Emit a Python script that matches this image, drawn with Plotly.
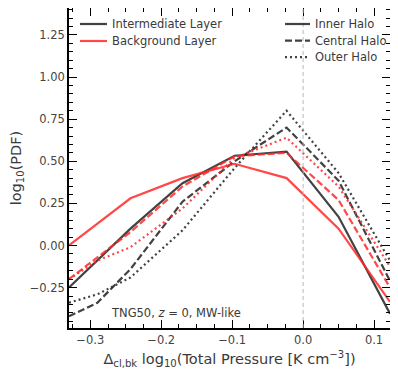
import plotly.graph_objects as go

# x positions of bin centres (left edge value read at axis boundary)
x_pts = [-0.33, -0.2433, -0.17, -0.0966, -0.0233, 0.05, 0.1225]
x_pts_b = [-0.33, -0.29, -0.2433, -0.17, -0.0966, -0.0233, 0.05, 0.1225]

# Intermediate layer (black)
int_inner = [-0.25, 0.10, 0.37, 0.533, 0.557, 0.17, -0.405]
int_central = [-0.42, -0.34, -0.14, 0.26, 0.50, 0.70, 0.385, -0.21]
int_outer = [-0.34, -0.29, -0.19, 0.09, 0.46, 0.80, 0.43, -0.09]

# Background layer (red)
bkg_inner = [0.00, 0.28, 0.40, 0.485, 0.40, 0.10, -0.335]
bkg_central = [-0.20, 0.08, 0.35, 0.53, 0.55, 0.27, -0.25]
bkg_outer = [-0.20, -0.09, -0.01, 0.22, 0.52, 0.64, 0.35, -0.125]

layer_labels = ["Intermediate Layer", "Background Layer"]
halo_labels = ["Inner Halo", "Central Halo", "Outer Halo"]

BLACK = "rgba(45,45,45,0.9)"
RED = "rgba(255,40,40,0.85)"
LW = 2.2
DASH = "7px,3px"
DOT = "2px,3px"
FONT = "DejaVu Sans"
TXT = "#3a3a3a"

# page is offset by the 8px body margin; plot area spans screen x 69..390, y 8..328
def px(sx):
    return (sx - 69) / 321.0

def py(sy):
    return (328 - sy) / 320.0

fig = go.Figure()

series = [
    (x_pts_b, int_outer, BLACK, DOT),
    (x_pts_b, int_central, BLACK, DASH),
    (x_pts, int_inner, BLACK, "solid"),
    (x_pts_b, bkg_outer, RED, DOT),
    (x_pts, bkg_central, RED, DASH),
    (x_pts, bkg_inner, RED, "solid"),
]
for xs, ys, c, d in series:
    fig.add_trace(go.Scatter(x=xs, y=ys, mode="lines", showlegend=False,
                             line=dict(color=c, width=LW, dash=d),
                             hoverinfo="skip"))

fig.add_vline(x=0.0, line=dict(color="rgba(180,180,180,0.8)", width=1.2, dash="4px,3px"))

# manual legends
for i, (lab, col) in enumerate(zip(layer_labels, [BLACK, RED])):
    yy = py(24 + 17 * i)
    fig.add_shape(type="line", xref="paper", yref="paper", x0=px(80), x1=px(107), y0=yy, y1=yy,
                  line=dict(color=col, width=LW))
    fig.add_annotation(x=px(110), y=yy, xref="paper", yref="paper", xanchor="left", yanchor="middle",
                       text=lab, showarrow=False, font=dict(size=11.5, color=TXT, family=FONT))
for i, (lab, d) in enumerate(zip(halo_labels, ["solid", DASH, DOT])):
    yy = py(24 + 16.6 * i)
    fig.add_shape(type="line", xref="paper", yref="paper", x0=px(285), x1=px(310), y0=yy, y1=yy,
                  line=dict(color=BLACK, width=LW, dash=d))
    fig.add_annotation(x=px(313), y=yy, xref="paper", yref="paper", xanchor="left", yanchor="middle",
                       text=lab, showarrow=False, font=dict(size=11.5, color=TXT, family=FONT))

fig.add_annotation(x=px(109), y=py(313), xref="paper", yref="paper", xanchor="left", yanchor="middle",
                   text="TNG50, <i>z</i> = 0, MW-like", showarrow=False,
                   font=dict(size=11.5, color=TXT, family=FONT))

axis_common = dict(showgrid=False, zeroline=False, showline=True, linecolor="black", linewidth=1.6,
                   mirror="allticks", ticks="inside", ticklen=8, tickwidth=1.4, tickcolor="black",
                   tickfont=dict(size=11.5, color="#444", family=FONT))

fig.update_xaxes(range=[-0.33, 0.1225], tickvals=[-0.3, -0.2, -0.1, 0.0, 0.1],
                 ticktext=["\u22120.3", "\u22120.2", "\u22120.1", "0.0", "0.1"],
                 minor=dict(dtick=0.025, ticks="inside", ticklen=4, tickwidth=1.1, tickcolor="black"),
                 title=dict(text="\u0394<sub>cl,bk</sub> log<sub>10</sub>(Total Pressure [K cm<sup>\u22123</sup>])",
                            font=dict(size=14.5, color=TXT, family=FONT), standoff=8),
                 **axis_common)
fig.update_yaxes(range=[-0.49, 1.41], tickvals=[-0.25, 0.0, 0.25, 0.5, 0.75, 1.0, 1.25],
                 ticktext=["\u22120.25", "0.00", "0.25", "0.50", "0.75", "1.00", "1.25"],
                 minor=dict(dtick=0.05, ticks="inside", ticklen=4, tickwidth=1.1, tickcolor="black"),
                 title=dict(text="log<sub>10</sub>(PDF)", font=dict(size=14.5, color=TXT, family=FONT),
                            standoff=6),
                 **axis_common)

fig.update_layout(
    width=390, height=369,
    margin=dict(l=61, r=8, t=0, b=49, autoexpand=False),
    plot_bgcolor="white", paper_bgcolor="white",
    font=dict(family=FONT, color=TXT),
    showlegend=False,
)

fig.write_html("out.html")
